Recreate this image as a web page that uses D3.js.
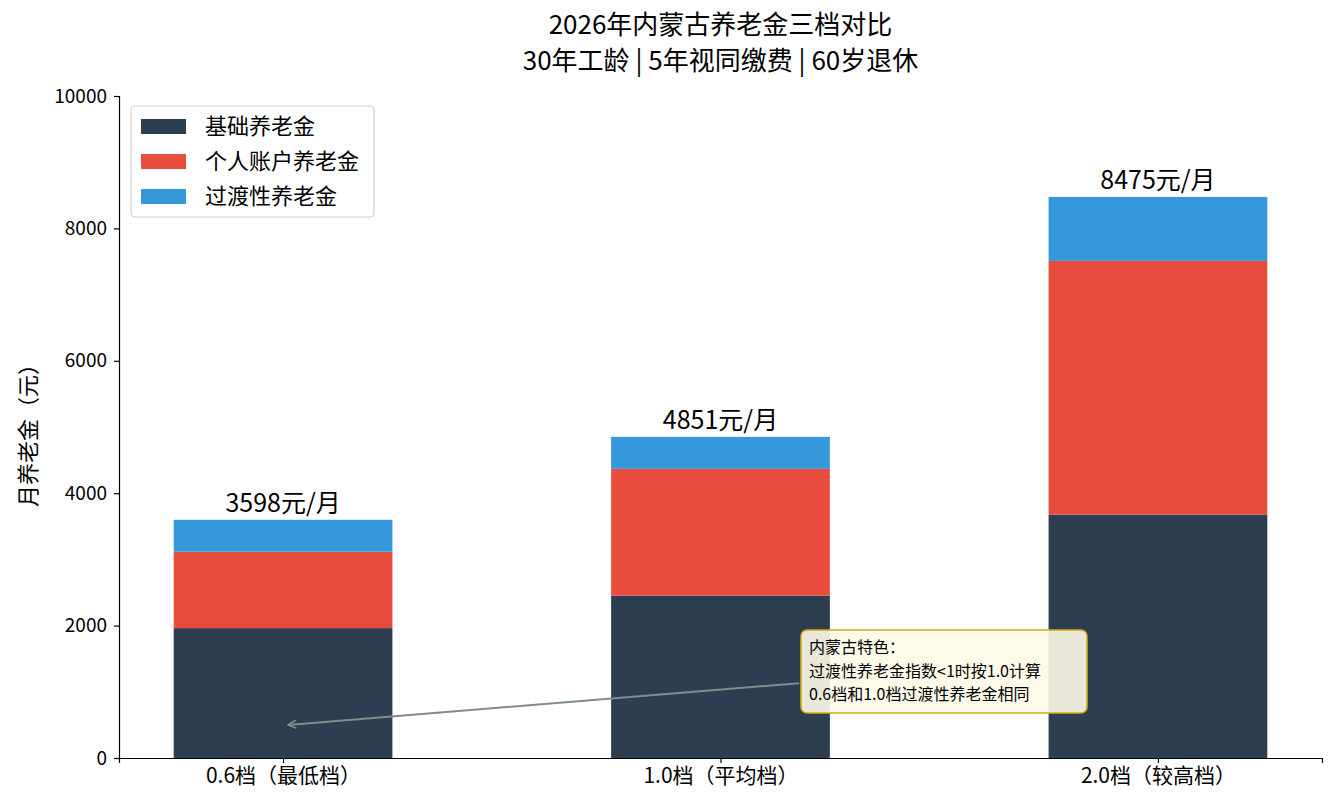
<!DOCTYPE html>
<html>
<head>
<meta charset="utf-8">
<script src="https://cdn.jsdelivr.net/npm/d3@7"></script>
<style>
  body { margin: 0; background: #fff; }
  text { font-family: "Noto Sans CJK SC", "Noto Sans", sans-serif; fill: #000; }
</style>
</head>
<body>
<div id="chart"></div>
<script>
// data
var categories = ["0.6档（最低档）", "1.0档（平均档）", "2.0档（较高档）"];
var basicPension = [1962, 2452, 3678];
var personalPension = [1153, 1916, 3831];
var transitionPension = [483, 483, 966];
var totals = [3598, 4851, 8475];
var seriesNames = ["基础养老金", "个人账户养老金", "过渡性养老金"];
var seriesColors = ["#2c3e50", "#e74c3c", "#3498db"];
var yTicks = [0, 2000, 4000, 6000, 8000, 10000];

var svgWidth = 1336;
var svgHeight = 812;
var margin = { top: 96, right: 14, bottom: 54, left: 119 };
var width = svgWidth - margin.left - margin.right;
var height = svgHeight - margin.top - margin.bottom;

var svg = d3.select("#chart").append("svg")
    .attr("width", svgWidth)
    .attr("height", svgHeight);

var chartGroup = svg.append("g")
    .attr("transform", `translate(${margin.left}, ${margin.top})`);

// x is a linear scale over category index, like matplotlib
var barWidth = 0.5;
var xScale = d3.scaleLinear()
    .domain([-0.375, 2.375])
    .range([0, width]);

var yScale = d3.scaleLinear()
    .domain([0, 10000])
    .range([height, 0]);

// stack the three series
var rows = categories.map(function (c, i) {
    return { cat: i, s0: basicPension[i], s1: personalPension[i], s2: transitionPension[i] };
});
var stack = d3.stack().keys(["s0", "s1", "s2"]);
var layers = stack(rows);

chartGroup.selectAll(".layer")
    .data(layers)
    .enter()
    .append("g")
    .attr("fill", (d, i) => seriesColors[i])
    .selectAll("rect")
    .data(d => d)
    .enter()
    .append("rect")
    .attr("x", d => xScale(d.data.cat - barWidth / 2))
    .attr("width", d => xScale(barWidth) - xScale(0))
    .attr("y", d => yScale(d[1]))
    .attr("height", d => yScale(d[0]) - yScale(d[1]));

// total labels
chartGroup.selectAll(".total")
    .data(totals)
    .enter()
    .append("text")
    .attr("x", (d, i) => xScale(i))
    .attr("y", d => yScale(d) - 8)
    .attr("text-anchor", "middle")
    .style("font-size", "25px")
    .text(d => d + "元/月");

// axes
var leftAxis = d3.axisLeft(yScale).tickValues(yTicks)
    .tickFormat(d3.format("d")).tickSize(5).tickPadding(7);
var yAxis = chartGroup.append("g").call(leftAxis);
yAxis.selectAll("text").style("font-size", "19px");

var bottomAxis = d3.axisBottom(xScale).tickValues([0, 1, 2])
    .tickFormat(i => categories[i]).tickSize(5).tickPadding(5);
var xAxis = chartGroup.append("g")
    .attr("transform", `translate(0, ${height})`)
    .call(bottomAxis);
xAxis.selectAll("text").style("font-size", "21px");

[yAxis, xAxis].forEach(function (ax) {
    ax.select(".domain").attr("stroke", "#000").attr("stroke-width", 1.2);
    ax.selectAll(".tick line").attr("stroke", "#000").attr("stroke-width", 1.2);
});

// y label
chartGroup.append("text")
    .attr("transform", "rotate(-90)")
    .attr("x", -334)
    .attr("y", -margin.left + 36)
    .attr("text-anchor", "middle")
    .style("font-size", "22px")
    .text("月养老金（元）");

// title
var titleGroup = svg.append("g");
titleGroup.append("text")
    .attr("x", margin.left + width / 2)
    .attr("y", 34)
    .attr("text-anchor", "middle")
    .style("font-size", "26px")
    .text("2026年内蒙古养老金三档对比");
titleGroup.append("text")
    .attr("x", margin.left + width / 2)
    .attr("y", 70)
    .attr("text-anchor", "middle")
    .style("font-size", "26px")
    .text("30年工龄 | 5年视同缴费 | 60岁退休");

// legend
var legend = svg.append("g").attr("transform", "translate(131, 106)");
legend.append("rect")
    .attr("width", 243).attr("height", 111)
    .attr("rx", 4)
    .attr("fill", "#fff")
    .attr("fill-opacity", 0.8)
    .attr("stroke", "#d0d0d0")
    .attr("stroke-width", 1.2);
seriesNames.forEach(function (name, i) {
    var row = legend.append("g").attr("transform", `translate(10, ${20 + i * 35})`);
    row.append("rect")
        .attr("y", -7)
        .attr("width", 45).attr("height", 15)
        .attr("fill", seriesColors[i]);
    row.append("text")
        .attr("x", 64)
        .attr("y", 8)
        .style("font-size", "22px")
        .text(name);
});

// annotation arrow
svg.append("defs").append("marker")
    .attr("id", "arrow")
    .attr("viewBox", "0 0 10 10")
    .attr("refX", 9).attr("refY", 5)
    .attr("markerWidth", 10).attr("markerHeight", 10)
    .attr("markerUnits", "userSpaceOnUse")
    .attr("orient", "auto")
    .append("path")
    .attr("d", "M1,1 L9,5 L1,9")
    .attr("fill", "none")
    .attr("stroke", "#7f8c8d")
    .attr("stroke-width", 1.6);

var arrowFrom = { x: 1.18, y: 1130 };
var arrowTo = { x: 0.0, y: 500 };
chartGroup.append("line")
    .attr("x1", xScale(arrowFrom.x))
    .attr("y1", yScale(arrowFrom.y))
    .attr("x2", xScale(arrowTo.x) + 5)
    .attr("y2", yScale(arrowTo.y))
    .attr("stroke", "#7f8c8d")
    .attr("stroke-width", 2)
    .attr("marker-end", "url(#arrow)");

// annotation box
var note = svg.append("g").attr("transform", "translate(801, 630)");
note.append("rect")
    .attr("width", 286).attr("height", 83)
    .attr("rx", 6)
    .attr("fill", "#fef9e7")
    .attr("fill-opacity", 0.9)
    .attr("stroke", "#d4ac0d")
    .attr("stroke-width", 1.5);
["内蒙古特色：", "过渡性养老金指数<1时按1.0计算", "0.6档和1.0档过渡性养老金相同"].forEach(function (line, i) {
    note.append("text")
        .attr("x", 8)
        .attr("y", 23 + i * 23.5)
        .style("font-size", "16px")
        .text(line);
});
</script>
</body>
</html>
